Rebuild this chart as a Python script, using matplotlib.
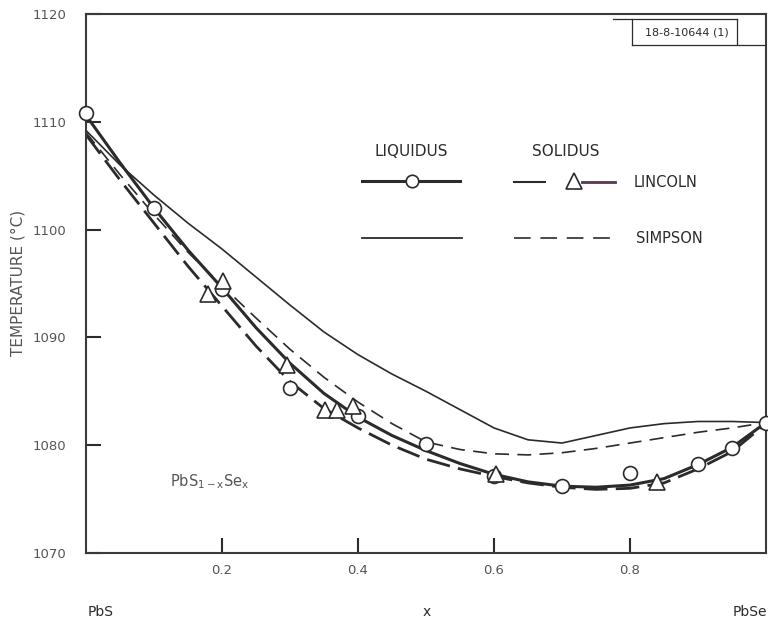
import matplotlib
matplotlib.use("Agg")
import matplotlib.pyplot as plt

# composition grid
x_curve = [0.0, 0.05, 0.1, 0.15, 0.2, 0.25, 0.3, 0.35, 0.4, 0.45, 0.5,
           0.55, 0.6, 0.65, 0.7, 0.75, 0.8, 0.85, 0.9, 0.95, 1.0]

liq_lincoln = [1110.6, 1106.2, 1102.0, 1098.1, 1094.6, 1090.9, 1087.6, 1084.8, 1082.6, 1080.9, 1079.5,
               1078.3, 1077.3, 1076.6, 1076.2, 1076.1, 1076.3, 1076.9, 1078.2, 1079.8, 1082.1]
sol_lincoln = [1108.8, 1104.6, 1100.6, 1096.6, 1092.9, 1089.2, 1085.9, 1083.4, 1081.6, 1080.0, 1078.7,
               1077.8, 1077.1, 1076.5, 1076.1, 1075.9, 1076.0, 1076.5, 1077.8, 1079.4, 1082.0]
liq_simpson = [1109.2, 1106.0, 1103.2, 1100.6, 1098.2, 1095.6, 1093.0, 1090.5, 1088.4, 1086.6, 1085.0,
               1083.3, 1081.6, 1080.5, 1080.2, 1080.9, 1081.6, 1082.0, 1082.2, 1082.2, 1082.1]
sol_simpson = [1109.0, 1105.1, 1101.4, 1097.9, 1094.8, 1091.8, 1088.9, 1086.3, 1084.0, 1082.0, 1080.3,
               1079.6, 1079.2, 1079.1, 1079.3, 1079.7, 1080.2, 1080.7, 1081.2, 1081.6, 1082.1]

# measured points (Lincoln)
liq_x = [0.0, 0.1, 0.2, 0.3, 0.4, 0.5, 0.6, 0.7, 0.8, 0.9, 0.95, 1.0]
liq_T = [1110.8, 1102.0, 1094.5, 1085.3, 1082.7, 1080.1, 1077.1, 1076.2, 1077.4, 1078.3, 1079.7, 1082.1]
sol_x = [0.18, 0.202, 0.296, 0.351, 0.369, 0.393, 0.603, 0.84]
sol_T = [1094.0, 1095.2, 1087.4, 1083.3, 1083.3, 1083.6, 1077.3, 1076.6]

y_ticks = [1070, 1080, 1090, 1100, 1110, 1120]
x_ticks = [0.2, 0.4, 0.6, 0.8]

plt.rcParams['lines.scale_dashes'] = False
plt.rcParams['mathtext.default'] = 'regular'

ink = '#2b2b2b'
grey = '#555555'

fig = plt.figure(figsize=(7.68, 6.21), dpi=100)
ax = fig.add_axes([86/768, 1-553/621, 680/768, 539/621])

ax.plot(x_curve, liq_simpson, color=ink, lw=1.2)
ax.plot(x_curve, sol_simpson, color=ink, lw=1.2, dashes=(10, 6))
ax.plot(x_curve, sol_lincoln, color=ink, lw=2.0, dashes=(17, 6))
ax.plot(x_curve, liq_lincoln, color=ink, lw=2.2)

ax.plot(liq_x, liq_T, 'o', ms=10, mfc='white', mec=ink, mew=1.2, clip_on=False, zorder=5)
ax.plot(sol_x, sol_T, '^', ms=11, mfc='white', mec=ink, mew=1.2, clip_on=False, zorder=5)

ax.set_xlim(0, 1)
ax.set_ylim(1070, 1120)
ax.set_xticks(x_ticks)
ax.set_xticklabels(['0.2', '0.4', '0.6', '0.8'])
ax.set_yticks(y_ticks)
ax.set_yticklabels([str(t) for t in y_ticks])
ax.tick_params(axis='both', direction='in', length=11, width=1.5, color=ink,
               labelsize=9.5, labelcolor=grey)
ax.tick_params(axis='y', pad=14)
ax.tick_params(axis='x', pad=8)
for s in ax.spines.values():
    s.set_color('#3a3a3a')
    s.set_linewidth(1.5)

# legend drawn by hand, as in the original figure
tr = ax.transAxes
ax.text(0.478, 0.744, 'LIQUIDUS', transform=tr, ha='center', va='center', fontsize=11, color=ink)
ax.text(0.706, 0.744, 'SOLIDUS', transform=tr, ha='center', va='center', fontsize=11, color=ink)
ax.plot([0.406, 0.550], [0.690, 0.690], color=ink, lw=2.2, transform=tr)
ax.plot([0.479], [0.690], 'o', ms=9, mfc='white', mec=ink, mew=1.2, transform=tr)
ax.plot([0.629, 0.675], [0.688, 0.688], color=ink, lw=1.5, transform=tr)
ax.plot([0.718], [0.690], '^', ms=11, mfc='white', mec=ink, mew=1.2, transform=tr)
ax.plot([0.729, 0.778], [0.688, 0.688], color='#5a3450', lw=2.0, transform=tr)
ax.text(0.806, 0.688, 'LINCOLN', transform=tr, ha='left', va='center', fontsize=10.5, color=ink)
ax.plot([0.406, 0.553], [0.584, 0.584], color=ink, lw=1.3, transform=tr)
ax.plot([0.629, 0.778], [0.584, 0.584], color=ink, lw=1.2, dashes=(12, 7), transform=tr)
ax.text(0.809, 0.584, 'SIMPSON', transform=tr, ha='left', va='center', fontsize=10.5, color=ink)

ax.text(0.124, 0.132, r'PbS$_{1-x}$Se$_x$', transform=tr, ha='left', va='center', fontsize=10.5, color=grey)

# drawing number box
ax.text(0.883, 0.966, '18-8-10644 (1)', transform=tr, ha='center', va='center', fontsize=8, color=ink)
ax.plot([0.775, 0.958], [0.991, 0.991], color=ink, lw=0.9, transform=tr, clip_on=False)
ax.plot([0.803, 0.803], [0.991, 0.943], color=ink, lw=0.9, transform=tr)
ax.plot([0.958, 0.958], [0.991, 0.945], color=ink, lw=0.9, transform=tr)
ax.plot([0.803, 0.998], [0.943, 0.943], color=ink, lw=0.9, transform=tr)

fig.text(18/768, 1-283/621, 'TEMPERATURE (°C)', rotation=90, ha='center', va='center',
         fontsize=11, color=grey)
fig.text(88/768, 1-612/621, 'PbS', ha='left', va='center', fontsize=10, color=ink)
fig.text(427/768, 1-612/621, 'x', ha='center', va='center', fontsize=10, color=ink)
fig.text(767/768, 1-612/621, 'PbSe', ha='right', va='center', fontsize=10, color=ink)

fig.savefig('out.png', dpi=100)
